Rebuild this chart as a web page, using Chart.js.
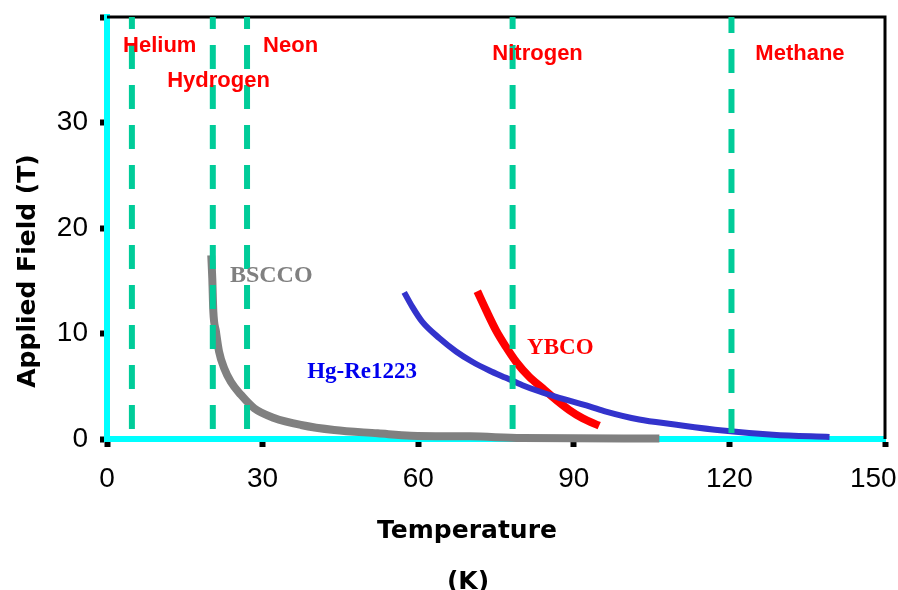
<!DOCTYPE html>
<html>
<head>
<meta charset="utf-8">
<script src="https://cdn.jsdelivr.net/npm/chart.js@4.4.0/dist/chart.umd.min.js"></script>
<style>
  body { margin: 0; background: #fff; }
</style>
</head>
<body>
<canvas id="mycanvas" width="898" height="590"></canvas>
<script>
// critical field vs temperature
var bsccoT = [20.1, 20.3, 20.5, 21.0, 21.6, 22.6, 23.9, 25.8, 28.4, 32.2, 37.4, 43.8, 52.2, 58.6, 70.0, 80.0, 106.5];
var bsccoB = [17.4, 15.2, 12.1, 10.2, 8.3, 6.7, 5.4, 4.2, 2.9, 2.0, 1.33, 0.85, 0.54, 0.31, 0.25, 0.1, 0.05];

var hgT = [57.3, 58.9, 60.8, 64.1, 67.3, 70.5, 73.7, 76.9, 80.1, 83.4, 86.6, 93.0, 96.2, 102.6, 109.1, 118.7, 128.4, 139.3];
var hgB = [13.9, 12.5, 11.1, 9.55, 8.3, 7.3, 6.5, 5.8, 5.1, 4.5, 4.0, 3.1, 2.6, 1.85, 1.4, 0.8, 0.4, 0.2];

var ybcoT = [71.4, 73.1, 75.0, 76.9, 78.9, 81.4, 84.0, 86.6, 89.1, 91.7, 94.9];
var ybcoB = [14.0, 12.2, 10.3, 8.75, 7.3, 5.9, 4.8, 3.7, 2.75, 1.96, 1.26];

// boiling points of the coolants (dashed lines) and their labels
var fluidT = [4.8, 20.4, 27.0, 78.2, 120.4];
var fluidNames = ['Helium', 'Hydrogen', 'Neon', 'Nitrogen', 'Methane'];
var fluidLabelT = [3.1, 11.6, 30.1, 74.3, 125.0];
var fluidLabelB = [37.25, 33.9, 37.25, 36.5, 36.5];

var curveNames = ['BSCCO', 'Hg-Re1223', 'YBCO'];
var curveLabelT = [23.7, 38.6, 81.0];
var curveLabelB = [15.45, 6.3, 8.6];

var xTicks = [0, 30, 60, 90, 120, 150];
var yTicks = [0, 10, 20, 30, 40];

function toPoints(xs, ys) {
    var pts = [];
    for (var i in xs) {
        pts.push({x: xs[i], y: ys[i]});
    }
    return pts;
}

var dashOffsets = [12, 12, 12, 12, 8];
var datasets = [];
for (var i in fluidT) {
    datasets.push({
        data: [{x: fluidT[i], y: 40}, {x: fluidT[i], y: 0}],
        borderColor: '#00CC99',
        borderWidth: 6,
        borderDash: [24, 16],
        borderDashOffset: dashOffsets[i],
        showLine: true,
        pointRadius: 0
    });
}

var curveColors = ['#808080', '#3333CC', '#FF0000'];
var curveWidths = [8, 6, 8];
var curveData = [toPoints(bsccoT, bsccoB), toPoints(hgT, hgB), toPoints(ybcoT, ybcoB)];
for (var j in curveData) {
    datasets.push({
        data: curveData[j],
        borderColor: curveColors[j],
        borderWidth: curveWidths[j],
        showLine: true,
        pointRadius: 0,
        cubicInterpolationMode: 'monotone',
        clip: false
    });
}

var notesPlugin = {
    id: 'notes',
    beforeDatasetsDraw: function(chart) {
        var ctx = chart.ctx;
        var a = chart.chartArea;
        ctx.save();
        ctx.strokeStyle = '#000';
        ctx.lineWidth = 3;
        ctx.beginPath();
        ctx.moveTo(a.left, a.top);
        ctx.lineTo(a.right, a.top);
        ctx.lineTo(a.right, a.bottom);
        ctx.stroke();
        ctx.restore();
    },
    afterDatasetsDraw: function(chart) {
        var ctx = chart.ctx;
        var xs = chart.scales.x;
        var ys = chart.scales.y;
        ctx.save();
        ctx.textAlign = 'left';
        ctx.textBaseline = 'middle';
        ctx.fillStyle = '#FF0000';
        ctx.font = 'bold 22px "Liberation Sans", Arial, sans-serif';
        for (var i in fluidNames) {
            ctx.fillText(fluidNames[i], xs.getPixelForValue(fluidLabelT[i]), ys.getPixelForValue(fluidLabelB[i]));
        }
        var textColors = ['#808080', '#0000EE', '#FF0000'];
        var textSizes = [24, 23, 23];
        for (var j in curveNames) {
            ctx.fillStyle = textColors[j];
            ctx.font = 'bold ' + textSizes[j] + 'px "Liberation Serif", "Times New Roman", serif';
            ctx.fillText(curveNames[j], xs.getPixelForValue(curveLabelT[j]), ys.getPixelForValue(curveLabelB[j]));
        }

        // axis titles
        ctx.fillStyle = '#000';
        ctx.textAlign = 'center';
        ctx.textBaseline = 'alphabetic';
        ctx.font = 'bold 25px "DejaVu Sans", sans-serif';
        ctx.fillText('Temperature', 467, 538);
        ctx.fillText('(K)', 468, 589);
        ctx.translate(35, 271);
        ctx.rotate(-Math.PI / 2);
        ctx.fillText('Applied Field (T)', 0, 0);
        ctx.restore();
    }
};

var tickFont = {family: '"Liberation Sans", Arial, sans-serif', size: 28};

var config = {
    type: 'scatter',
    data: {datasets: datasets},
    options: {
        responsive: false,
        animation: false,
        devicePixelRatio: 1,
        layout: {padding: {left: 0, top: 17, right: 13, bottom: 0}},
        plugins: {legend: {display: false}, tooltip: {enabled: false}},
        scales: {
            x: {
                type: 'linear',
                min: 0,
                max: 150,
                afterBuildTicks: function(scale) {
                    scale.ticks = xTicks.map(function(v) { return {value: v}; });
                },
                afterFit: function(scale) {
                    scale.height = 151;
                    scale.paddingLeft = 0;
                    scale.paddingRight = 0;
                },
                border: {color: '#00FFFF', width: 6},
                grid: {drawOnChartArea: false, drawTicks: true, tickLength: 8, tickWidth: 6, tickColor: '#000'},
                ticks: {
                    color: '#000',
                    font: tickFont,
                    padding: 15,
                    maxRotation: 0,
                    // last label is pushed left so it stays on the canvas
                    callback: function(v) { return v == 150 ? '150   ' : v; }
                }
            },
            y: {
                type: 'linear',
                min: 0,
                max: 40,
                afterBuildTicks: function(scale) {
                    scale.ticks = yTicks.map(function(v) { return {value: v}; });
                },
                afterFit: function(scale) {
                    scale.width = 107;
                    scale.paddingTop = 0;
                    scale.paddingBottom = 0;
                },
                border: {color: '#00FFFF', width: 6},
                grid: {drawOnChartArea: false, drawTicks: true, tickLength: 7, tickWidth: 6, tickColor: '#000'},
                ticks: {
                    color: '#000',
                    font: tickFont,
                    padding: 12,
                    callback: function(v) { return v == 40 ? '' : v; }
                }
            }
        }
    },
    plugins: [notesPlugin]
};

var ctx = document.getElementById("mycanvas").getContext("2d");
var fieldChart = new Chart(ctx, config);
</script>
</body>
</html>
